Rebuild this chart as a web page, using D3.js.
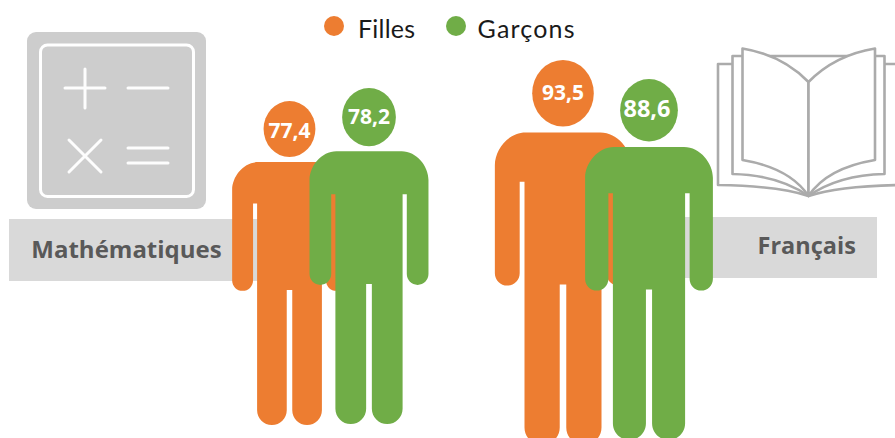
<!DOCTYPE html>
<html>
<head>
<meta charset="utf-8">
<script src="https://cdn.jsdelivr.net/npm/d3@7"></script>
<style>
  html, body { margin: 0; padding: 0; background: #fff; overflow: hidden; }
  svg { display: block; font-family: "Open Sans", Lato, sans-serif; }
</style>
</head>
<body>
<div id="chart"></div>
<script>
// data
var subjects = ["Mathématiques", "Français"];
var genders = ["Filles", "Garçons"];
var filles = [77.4, 93.5];
var garcons = [78.2, 88.6];

var w = 895, h = 438;
var orange = "#ED7D31", green = "#70AD47";

var svg = d3.select("#chart").append("svg")
  .attr("width", w).attr("height", h)
  .attr("viewBox", "0 0 " + w + " " + h);

// the picture's figures are not to a common zero, so the scales go through each value
var sorted = filles.concat(garcons).sort(d3.ascending);
var topY = d3.scaleLinear().domain(sorted).range([101, 88, 79, 60]);
var figH = d3.scaleLinear().domain(sorted).range([324, 336, 361, 385]);
var subjectX = d3.scalePoint().domain(subjects).range([289.5, 563]);
var genderX = d3.scaleOrdinal().domain(genders).range([0, 1]);
var gapX = d3.scaleOrdinal().domain(subjects).range([79.5, 86]);
var color = d3.scaleOrdinal().domain(genders).range([orange, green]);

var figures = [];
subjects.forEach(function(s, i) {
  figures.push({subject: s, gender: genders[0], value: filles[i]});
  figures.push({subject: s, gender: genders[1], value: garcons[i]});
});

// grey bands behind the people
var bands = svg.append("g").attr("fill", "#D9D9D9");
bands.append("rect").attr("x", 9).attr("y", 219).attr("width", 250).attr("height", 62);
bands.append("rect").attr("x", 670).attr("y", 217).attr("width", 207).attr("height", 61);

// calculator icon
var calc = svg.append("g");
calc.append("rect").attr("x", 27).attr("y", 32).attr("width", 179).attr("height", 177).attr("rx", 9).attr("fill", "#CDCDCD");
calc.append("rect").attr("x", 40.5).attr("y", 45).attr("width", 153).attr("height", 151.5).attr("rx", 7)
  .attr("fill", "none").attr("stroke", "#fff").attr("stroke-width", 3);
var sym = calc.append("path")
  .attr("fill", "none").attr("stroke", "#fff").attr("stroke-width", 3).attr("stroke-linecap", "round")
  .attr("opacity", 0.95);
var p = d3.path();
[[65, 88, 105, 88], [85, 69, 85, 108], [128, 88, 168, 88], [69, 172, 101, 140], [69, 140, 101, 172],
 [128, 148, 168, 148], [128, 163, 168, 163]].forEach(function(l) {
  p.moveTo(l[0], l[1]); p.lineTo(l[2], l[3]);
});
sym.attr("d", p.toString());

// book icon
var book = svg.append("g").attr("fill", "#fff").attr("stroke", "#ABABAB").attr("stroke-width", 2.6).attr("stroke-linejoin", "round");
var bx = 808.5, bb = 196;
[[899, 64, 185], [884.5, 56, 174]].forEach(function(r) {
  book.append("path").attr("d", "M" + (2 * bx - r[0]) + "," + r[1] + "H" + r[0] + "V" + r[2] +
    "Q" + (bx + 30) + "," + (r[2] + 1) + " " + bx + "," + bb + "Q" + (bx - 30) + "," + (r[2] + 1) + " " + (2 * bx - r[0]) + "," + r[2] + "Z");
});
book.append("path").attr("d", "M" + bx + ",82 Q782,55 742.5,48.5 V160 Q790,168 " + bx + "," + bb + "Z");
book.append("path").attr("d", "M" + bx + ",82 Q835,55 875,48.5 V160 Q827,168 " + bx + "," + bb + "Z");

// subject labels
svg.append("text").attr("x", 126.5).attr("y", 257.5).attr("text-anchor", "middle")
  .attr("font-size", 24).attr("font-weight", 700).attr("fill", "#595959").text(subjects[0]);
svg.append("text").attr("x", 806.7).attr("y", 254).attr("text-anchor", "middle")
  .attr("font-size", 23.5).attr("font-weight", 700).attr("fill", "#595959").text(subjects[1]);

// round end of a limb, going from x0 to x1 with its lowest point at yEnd
function roundEnd(p, x0, x1, yEnd) {
  var r = Math.abs(x1 - x0) / 2, k = 0.5523 * r, mid = (x0 + x1) / 2, s = x1 > x0 ? 1 : -1;
  p.bezierCurveTo(x0, yEnd - r + k, mid - s * k, yEnd, mid, yEnd);
  p.bezierCurveTo(mid + s * k, yEnd, x1, yEnd - r + k, x1, yEnd - r);
}

// person outline, in fractions of the figure height measured from the centre line
function person(cx, top, H) {
  var x = function(u) { return cx + u * H; };
  var y = function(v) { return top + v * H; };
  var armOut = 0.177, armIn = 0.1125, body = 0.1, leg = 0.0085;
  var shoulder = 0.1885, armpit = 0.3165, armEnd = 0.586, crotch = 0.583;
  var ra = (armOut - armIn) / 2, rl = (body - leg) / 2;
  var p = d3.path();
  p.moveTo(x(-armOut + 0.08), y(shoulder));
  p.lineTo(x(armOut - 0.08), y(shoulder));
  p.bezierCurveTo(x(armOut - 0.035), y(shoulder), x(armOut), y(shoulder + 0.045), x(armOut), y(shoulder + 0.085));
  p.lineTo(x(armOut), y(armEnd - ra));
  roundEnd(p, x(armOut), x(armIn), y(armEnd));
  p.lineTo(x(armIn), y(armpit));
  p.lineTo(x(body), y(armpit));
  p.lineTo(x(body), y(1 - rl));
  roundEnd(p, x(body), x(leg), y(1));
  p.lineTo(x(leg), y(crotch));
  p.lineTo(x(-leg), y(crotch));
  p.lineTo(x(-leg), y(1 - rl));
  roundEnd(p, x(-leg), x(-body), y(1));
  p.lineTo(x(-body), y(armpit));
  p.lineTo(x(-armIn), y(armpit));
  p.lineTo(x(-armIn), y(armEnd - ra));
  roundEnd(p, x(-armIn), x(-armOut), y(armEnd));
  p.lineTo(x(-armOut), y(shoulder + 0.085));
  p.bezierCurveTo(x(-armOut), y(shoulder + 0.045), x(-armOut + 0.035), y(shoulder), x(-armOut + 0.08), y(shoulder));
  p.closePath();
  return p.toString();
}

var people = svg.selectAll(".person")
  .data(figures)
  .enter().append("g")
  .attr("class", "person");

function centre(d) { return subjectX(d.subject) + genderX(d.gender) * gapX(d.subject); }

people.append("path")
  .attr("fill", function(d) { return color(d.gender); })
  .attr("d", function(d) { return person(centre(d), topY(d.value), figH(d.value)); });

people.append("ellipse")
  .attr("fill", function(d) { return color(d.gender); })
  .attr("cx", function(d) { return centre(d); })
  .attr("cy", function(d) { return topY(d.value) + 0.0865 * figH(d.value); })
  .attr("rx", function(d) { return 0.08 * figH(d.value); })
  .attr("ry", function(d) { return 0.0865 * figH(d.value); });

// values sit in the heads, decimal comma as in the source
people.append("text")
  .attr("text-anchor", "middle")
  .attr("fill", "#fff")
  .attr("font-weight", 700)
  .attr("font-size", function(d) { return d.value === 88.6 ? 23.5 : 21; })
  .attr("x", function(d) { return centre(d) - (d.value === 88.6 ? 2 : 0); })
  .attr("y", function(d) { return topY(d.value) + 0.0865 * figH(d.value) + (d.value === 77.4 ? 9 : 7); })
  .text(function(d) { return String(d.value).replace(".", ","); });

// legend
var legendX = d3.scaleOrdinal().domain(genders).range([334, 456]);
var legendW = d3.scaleOrdinal().domain(genders).range([57, 97]);
var legend = svg.selectAll(".legend")
  .data(genders)
  .enter().append("g")
  .attr("class", "legend");
legend.append("circle")
  .attr("cx", function(d) { return legendX(d); })
  .attr("cy", 26).attr("r", 10)
  .attr("fill", function(d) { return color(d); });
legend.append("text")
  .attr("x", function(d) { return legendX(d) + (d === genders[0] ? 24 : 21.5); })
  .attr("y", 37.5)
  .attr("font-size", 25)
  .attr("font-family", "Lato, sans-serif")
  .attr("textLength", function(d) { return legendW(d); })
  .attr("fill", "#1a1a1a")
  .text(function(d) { return d; });
</script>
</body>
</html>
